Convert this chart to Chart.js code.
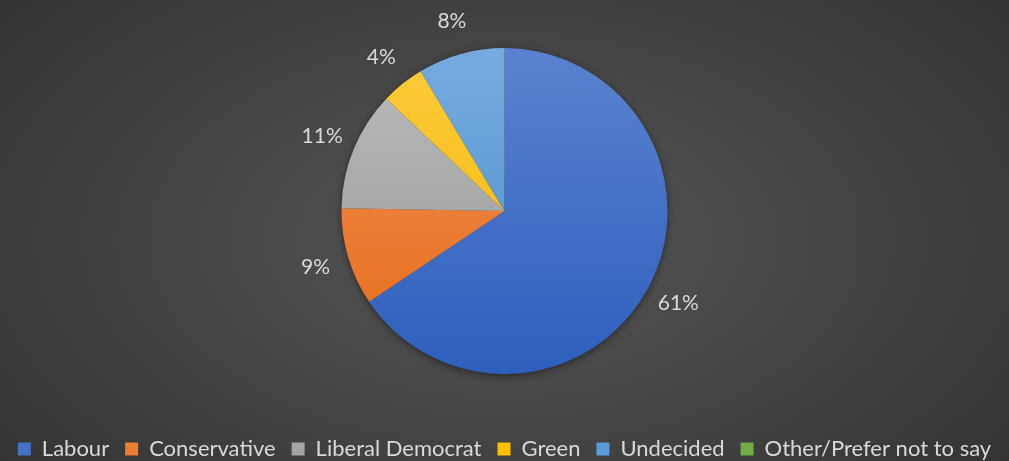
<!DOCTYPE html>
<html lang="en">
  <head>
    <meta charset="UTF-8">
    <script src="https://cdn.jsdelivr.net/npm/chart.js"></script>
    <style>
      html, body { margin: 0; padding: 0; }
      body {
        width: 1009px;
        height: 461px;
        background: radial-gradient(ellipse 75% 95% at 50% 52%, #565656 0%, #404040 55%, #2d2d2d 100%);
        overflow: hidden;
      }
      .chart-container { position: relative; width: 1009px; height: 461px; }
    </style>
  </head>
  <body>
    <div class="chart-container">
      <canvas id="pie"></canvas>
    </div>
    <script>
      // data
      const parties = ['Labour', 'Conservative', 'Liberal Democrat', 'Green', 'Undecided', 'Other/Prefer not to say'];
      const shares = [61, 9, 11, 4, 8, 0];

      // slice colours: legend swatch, top of gradient, bottom of gradient
      const baseColors = ['#4472C4', '#ED7D31', '#A5A5A5', '#FFC000', '#5B9BD5', '#70AD47'];
      const topColors = ['#5b82cf', '#f39259', '#bcbcbc', '#ffcb3c', '#76abdf', '#86bb60'];
      const bottomColors = ['#2d5fbc', '#e46a16', '#949494', '#f0b400', '#488dce', '#5f9c38'];
      const pieRadius = 163;

      function sliceFill(ctx) {
        const chart = ctx.chart;
        const area = chart.chartArea;
        if (!area) return baseColors[ctx.dataIndex];
        const cy = (area.top + area.bottom) / 2;
        const g = chart.ctx.createLinearGradient(0, cy - pieRadius, 0, cy + pieRadius);
        g.addColorStop(0, topColors[ctx.dataIndex]);
        g.addColorStop(1, bottomColors[ctx.dataIndex]);
        return g;
      }

      // soft shadow behind the pie
      const pieShadow = {
        id: 'pieShadow',
        beforeDatasetsDraw(chart) {
          const arc = chart.getDatasetMeta(0).data[0];
          if (!arc) return;
          const c = chart.ctx;
          c.save();
          c.shadowColor = 'rgba(0,0,0,0.55)';
          c.shadowBlur = 8;
          c.shadowOffsetY = 2;
          c.fillStyle = '#3a3a3a';
          c.beginPath();
          c.arc(arc.x, arc.y, arc.outerRadius - 1, 0, Math.PI * 2);
          c.fill();
          c.restore();
        }
      };

      // percentage labels outside the slices
      const outsideLabels = {
        id: 'outsideLabels',
        afterDatasetsDraw(chart) {
          const meta = chart.getDatasetMeta(0);
          const c = chart.ctx;
          c.save();
          c.font = '21px Lato, "Open Sans", sans-serif';
          c.fillStyle = '#d9d9d9';
          c.textAlign = 'center';
          c.textBaseline = 'middle';
          meta.data.forEach((arc, i) => {
            if (!shares[i]) return;
            const mid = (arc.startAngle + arc.endAngle) / 2;
            const r = arc.outerRadius + 34;
            c.fillText(shares[i] + '%', arc.x + Math.cos(mid) * r, arc.y + Math.sin(mid) * r);
          });
          c.restore();
        }
      };

      const pieChart = new Chart(document.getElementById('pie'), {
        type: 'pie',
        data: {
          labels: parties,
          datasets: [{
            data: shares,
            backgroundColor: sliceFill,
            borderWidth: 0,
            radius: pieRadius
          }]
        },
        options: {
          responsive: true,
          maintainAspectRatio: false,
          animation: false,
          layout: { padding: { top: -22, bottom: -9, left: 0, right: 0 } },
          plugins: {
            tooltip: { enabled: false },
            legend: {
              position: 'bottom',
              labels: {
                color: '#d9d9d9',
                font: { family: 'Lato, "Open Sans", sans-serif', size: 22 },
                boxWidth: 13,
                boxHeight: 13,
                padding: 16,
                generateLabels(chart) {
                  return parties.map((p, i) => ({
                    text: p,
                    fillStyle: baseColors[i],
                    strokeStyle: baseColors[i],
                    lineWidth: 0,
                    fontColor: '#d9d9d9',
                    hidden: false,
                    index: i
                  }));
                }
              }
            }
          }
        },
        plugins: [pieShadow, outsideLabels]
      });
    </script>
  </body>
</html>
